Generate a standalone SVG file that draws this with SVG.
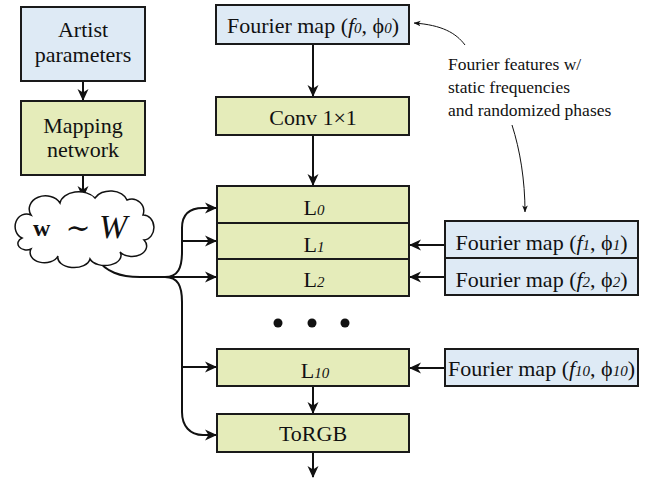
<svg xmlns="http://www.w3.org/2000/svg" width="651" height="479" viewBox="0 0 651 479" font-family="'Liberation Serif', 'Times New Roman', serif">
  <style>
    .box { stroke: #1a1a1a; stroke-width: 2; }
    .blue { fill: #deeaf5; }
    .green { fill: #e5ecba; }
    .lbl { font-family: 'Liberation Serif', 'Times New Roman', serif; font-size: 22px; fill: #111; text-anchor: middle; }
    .sub { font-style: italic; font-size: 15px; }
    .note { font-family: 'Liberation Serif', 'Times New Roman', serif; font-size: 17.5px; fill: #111; }
    .wire { fill: none; stroke: #111; stroke-width: 2; }
    .thin { fill: none; stroke: #111; stroke-width: 1; }
  </style>
  <defs>
    <marker id="arr" viewBox="0 0 12 12" refX="11" refY="6" markerWidth="12" markerHeight="12" markerUnits="userSpaceOnUse" orient="auto">
      <path d="M0,0.5 L12,6 L0,11.5 L3.5,6 Z" fill="#111"/>
    </marker>
    <marker id="arrs" viewBox="0 0 8 8" refX="7.5" refY="4" markerWidth="7" markerHeight="7" markerUnits="userSpaceOnUse" orient="auto">
      <path d="M0,0.8 L8,4 L0,7.2 L2,4 Z" fill="#111"/>
    </marker>
  </defs>

  <!-- connectors -->
  <g id="connectors">
    <path class="wire" d="M83,81 V100" marker-end="url(#arr)"/>
    <path class="wire" d="M83,175 V197" marker-end="url(#arr)"/>
    <path class="wire" d="M313,44 V96" marker-end="url(#arr)"/>
    <path class="wire" d="M313,135 V185" marker-end="url(#arr)"/>
    <path class="wire" d="M313,386 V413" marker-end="url(#arr)"/>
    <path class="wire" d="M313,452 V477" marker-end="url(#arr)"/>
    <!-- fourier maps into layers -->
    <path class="wire" d="M445,245 H410" marker-end="url(#arr)"/>
    <path class="wire" d="M445,277 H410" marker-end="url(#arr)"/>
    <path class="wire" d="M445,368 H410" marker-end="url(#arr)"/>
    <!-- style vector fan-out -->
    <path class="wire" d="M96,258 C106,272 120,277 140,277 H165"/>
    <path class="wire" d="M165,277 H216" marker-end="url(#arr)"/>
    <path class="wire" d="M165,277 C178,277 182,268 182,252 V228 C182,214 190,208 203,208 H216" marker-end="url(#arr)"/>
    <path class="wire" d="M182,241 H216" marker-end="url(#arr)"/>
    <path class="wire" d="M165,277 C178,277 182,286 182,302 V412 C182,426 190,435 203,435 H216" marker-end="url(#arr)"/>
    <path class="wire" d="M182,367 H216" marker-end="url(#arr)"/>
    <!-- annotation pointers -->
    <path class="thin" d="M465,45 C456,33 442,25 414,23" marker-end="url(#arrs)"/>
    <path class="thin" d="M512,125 C520,150 525,180 525,212" marker-end="url(#arrs)"/>
  </g>

  <g id="artist">
    <rect class="box blue" x="21" y="7" width="124" height="74"/>
    <text class="lbl" x="83" y="37">Artist</text>
    <text class="lbl" x="83" y="62">parameters</text>
  </g>

  <g id="mapping">
    <rect class="box green" x="21" y="101" width="124" height="74"/>
    <text class="lbl" x="83" y="133">Mapping</text>
    <text class="lbl" x="83" y="157">network</text>
  </g>

  <g id="latent">
    <path d="M22,238 A10,11 0 0 1 31,215 A16,13 0 0 1 60,203 A19,13 0 0 1 95,198 A17,12 0 0 1 127,200 A12,12 0 0 1 143,215 A10,12 0 0 1 144,240 A14,10 0 0 1 120,252 A16,10 0 0 1 90,259 A16,10 0 0 1 58,256 A14,10 0 0 1 31,249 A8,6 0 0 1 22,238 Z" fill="#fff" stroke="#111" stroke-width="1.5"/>
    <text x="33" y="236" font-family="'Liberation Serif', serif" font-size="24" font-weight="bold" fill="#111">w</text>
    <text x="78" y="238" font-family="'DejaVu Serif', serif" font-size="30" fill="#111" text-anchor="middle">∼</text>
    <text x="99" y="238" font-family="'Liberation Serif', serif" font-size="34" font-style="italic" fill="#111">W</text>
  </g>

  <g id="fourier0">
    <rect class="box blue" x="216" y="5" width="193" height="39"/>
    <text class="lbl" x="313" y="33">Fourier map (<tspan font-style="italic">f</tspan><tspan class="sub">0</tspan>, ϕ<tspan class="sub">0</tspan>)</text>
  </g>

  <g id="conv">
    <rect class="box green" x="216" y="97" width="193" height="38"/>
    <text class="lbl" x="313" y="125">Conv 1×1</text>
  </g>

  <g id="layer0">
    <rect class="box green" x="217" y="186" width="192" height="37"/>
    <text class="lbl" x="314" y="215">L<tspan class="sub" font-size="17">0</tspan></text>
  </g>
  <g id="layer1">
    <rect class="box green" x="217" y="223" width="192" height="36"/>
    <text class="lbl" x="314" y="252">L<tspan class="sub" font-size="17">1</tspan></text>
  </g>
  <g id="layer2">
    <rect class="box green" x="217" y="259" width="192" height="37"/>
    <text class="lbl" x="314" y="287">L<tspan class="sub" font-size="17">2</tspan></text>
  </g>

  <g id="fourier1">
    <rect class="box blue" x="445" y="221" width="193" height="37"/>
    <text class="lbl" x="541.5" y="250">Fourier map (<tspan font-style="italic">f</tspan><tspan class="sub">1</tspan>, ϕ<tspan class="sub">1</tspan>)</text>
  </g>
  <g id="fourier2">
    <rect class="box blue" x="445" y="258" width="193" height="37"/>
    <text class="lbl" x="541.5" y="287">Fourier map (<tspan font-style="italic">f</tspan><tspan class="sub">2</tspan>, ϕ<tspan class="sub">2</tspan>)</text>
  </g>

  <g id="ellipsis" fill="#111">
    <circle cx="278" cy="323" r="4.5"/>
    <circle cx="312" cy="323" r="4.5"/>
    <circle cx="345" cy="323" r="4.5"/>
  </g>

  <g id="layer10">
    <rect class="box green" x="217" y="349" width="192" height="37"/>
    <text class="lbl" x="315" y="378">L<tspan class="sub" font-size="17">10</tspan></text>
  </g>
  <g id="fourier10">
    <rect class="box blue" x="445" y="349" width="193" height="37"/>
    <text class="lbl" x="541.5" y="376">Fourier map (<tspan font-style="italic">f</tspan><tspan class="sub">10</tspan>, ϕ<tspan class="sub">10</tspan>)</text>
  </g>

  <g id="torgb">
    <rect class="box green" x="217" y="414" width="192" height="38"/>
    <text class="lbl" x="313" y="441">ToRGB</text>
  </g>

  <g id="note">
    <text class="note" x="448" y="70">Fourier features w/</text>
    <text class="note" x="448" y="93">static frequencies</text>
    <text class="note" x="448" y="116">and randomized phases</text>
  </g>
</svg>
